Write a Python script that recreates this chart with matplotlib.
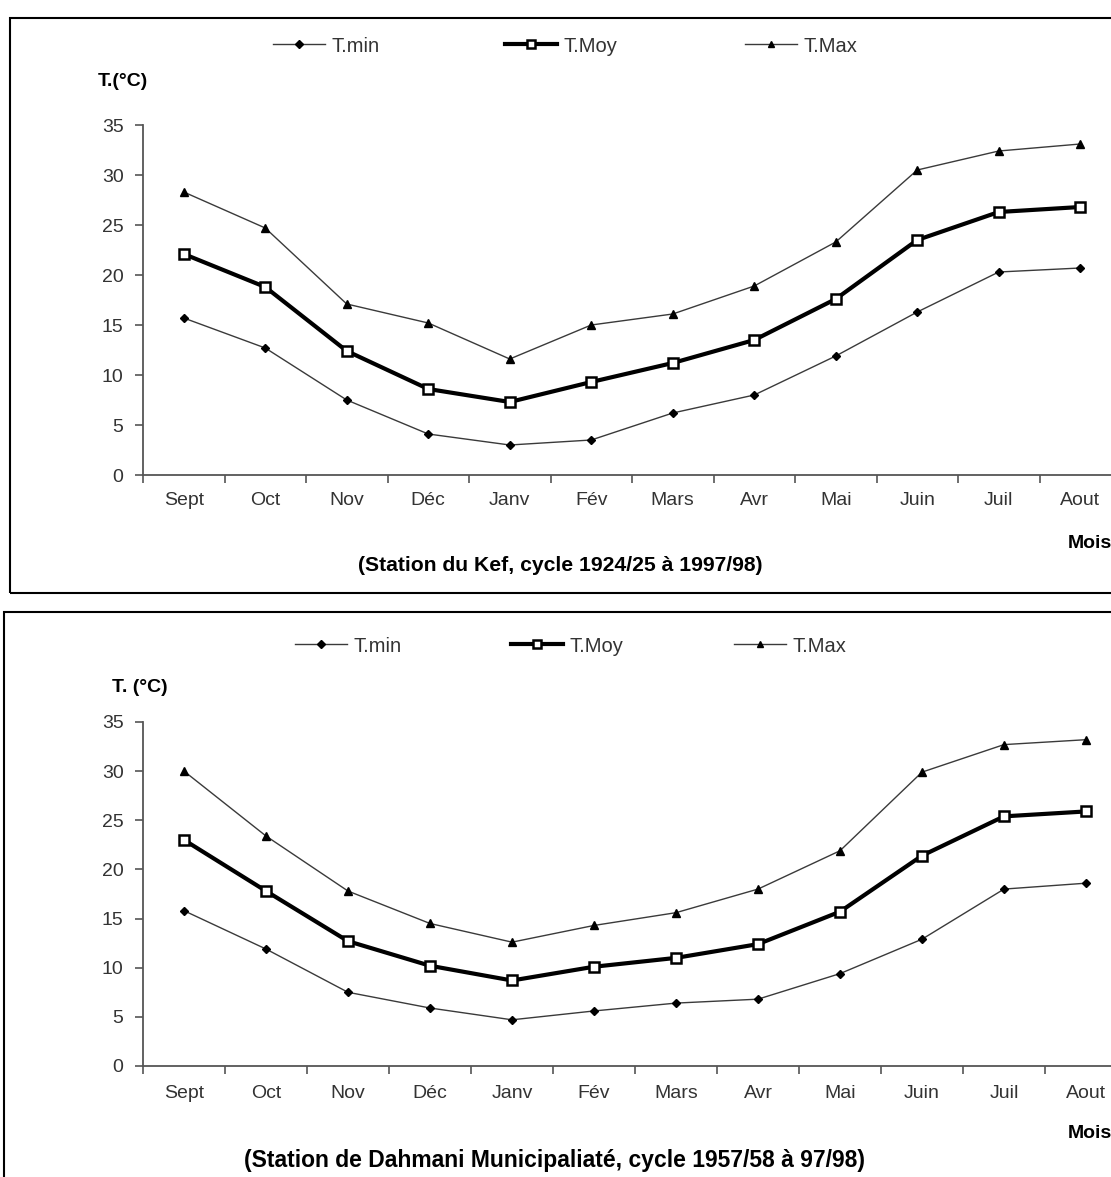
import matplotlib
matplotlib.use("Agg")
import matplotlib.pyplot as plt
from matplotlib.patches import Rectangle
from matplotlib.ticker import FixedLocator, NullFormatter

plt.rcParams['font.family'] = ['Liberation Sans', 'DejaVu Sans']

months = ['Sept', 'Oct', 'Nov', 'Déc', 'Janv', 'Fév', 'Mars', 'Avr', 'Mai', 'Juin', 'Juil', 'Aout']
kef_tmin = [15.7, 12.7, 7.5, 4.1, 3.0, 3.5, 6.2, 8.0, 11.9, 16.3, 20.3, 20.7]
kef_tmoy = [22.1, 18.8, 12.4, 8.6, 7.3, 9.3, 11.2, 13.5, 17.6, 23.5, 26.3, 26.8]
kef_tmax = [28.3, 24.7, 17.1, 15.2, 11.6, 15.0, 16.1, 18.9, 23.3, 30.5, 32.4, 33.1]
dah_tmin = [15.8, 11.9, 7.5, 5.9, 4.7, 5.6, 6.4, 6.8, 9.4, 12.9, 18.0, 18.6]
dah_tmoy = [23.0, 17.8, 12.7, 10.2, 8.7, 10.1, 11.0, 12.4, 15.7, 21.4, 25.4, 25.9]
dah_tmax = [30.0, 23.4, 17.8, 14.5, 12.6, 14.3, 15.6, 18.0, 21.9, 29.9, 32.7, 33.2]
yticks = [0, 5, 10, 15, 20, 25, 30, 35]
series_names = ['T.min', 'T.Moy', 'T.Max']

W, H = 1111, 1177
fig = plt.figure(figsize=(W / 100, H / 100), dpi=100)


def fx(x):
    return x / W


def fy(y):
    return 1 - y / H


# Panel borders
fig.patches.append(Rectangle((fx(10), fy(593)), fx(1200) - fx(10), fy(18) - fy(593),
                             transform=fig.transFigure, fill=False, edgecolor='black', lw=1.5))
fig.patches.append(Rectangle((fx(4), fy(1250)), fx(1200) - fx(4), fy(612) - fy(1250),
                             transform=fig.transFigure, fill=False, edgecolor='black', lw=1.5))


def make_panel(left, right, top, bottom, tmin, tmoy, tmax, legend_y, leg_xs, xpad,
               ylabel, ylabel_xy, mois_xy, title, title_xy, title_size):
    ax = fig.add_axes([fx(left), fy(bottom), fx(right) - fx(left), fy(top) - fy(bottom)])
    x = list(range(len(months)))
    thin = '#3a3a3a'
    l1, = ax.plot(x, tmin, color=thin, lw=1.0, marker='D', ms=4.5, mfc='black', mec='black')
    l2, = ax.plot(x, tmoy, color='black', lw=3.0, marker='s', ms=7.5, mfc='white', mec='black', mew=1.8)
    l3, = ax.plot(x, tmax, color=thin, lw=1.0, marker='^', ms=6, mfc='black', mec='black')
    ax.set_xlim(-0.5, len(months) - 0.5)
    ax.set_ylim(0, 35)
    ax.set_yticks(yticks)
    ax.set_xticks(x)
    ax.set_xticklabels(months)
    ax.xaxis.set_minor_locator(FixedLocator([i - 0.5 for i in range(len(months) + 1)]))
    ax.xaxis.set_minor_formatter(NullFormatter())
    ax.tick_params(axis='x', which='major', length=0, pad=xpad, labelsize=14, labelcolor='#333333')
    ax.tick_params(axis='x', which='minor', length=6, width=1.2, color='#555555', direction='out')
    ax.tick_params(axis='y', length=6, width=1.2, color='#555555', pad=8, labelsize=14,
                   labelcolor='#333333', direction='out')
    for s in ['top', 'right']:
        ax.spines[s].set_visible(False)
    for s in ['left', 'bottom']:
        ax.spines[s].set_color('#555555')
        ax.spines[s].set_linewidth(1.3)
    ax.patch.set_alpha(0)
    for handle, name, lx in zip([l1, l2, l3], series_names, leg_xs):
        leg = fig.legend([handle], [name], loc='center left',
                         bbox_to_anchor=(fx(lx), fy(legend_y)), frameon=False,
                         borderpad=0, borderaxespad=0, handlelength=2.6, handletextpad=0.3,
                         markerscale=0.8, prop={'size': 14.5})
        for t in leg.get_texts():
            t.set_color('#333333')
    fig.text(fx(ylabel_xy[0]), fy(ylabel_xy[1]), ylabel, ha='left', va='center',
             fontsize=14, fontweight='bold')
    fig.text(fx(mois_xy[0]), fy(mois_xy[1]), 'Mois', ha='left', va='center',
             fontsize=14, fontweight='bold')
    fig.text(fx(title_xy[0]), fy(title_xy[1]), title, ha='center', va='center',
             fontsize=title_size, fontweight='bold')
    return ax


make_panel(143, 1121, 125, 475, kef_tmin, kef_tmoy, kef_tmax, 46, (273, 505, 745), 12.5,
           'T.(°C)', (98, 82), (1068, 543),
           '(Station du Kef, cycle 1924/25 à 1997/98)', (560, 565), 15.2)
make_panel(143, 1127, 722, 1066, dah_tmin, dah_tmoy, dah_tmax, 646, (295, 511, 734), 14,
           'T. (°C)', (112, 687), (1068, 1133),
           '(Station de Dahmani Municipaliaté, cycle 1957/58 à 97/98)', (555, 1160), 16.5)

fig.savefig('out.png', dpi=100)
